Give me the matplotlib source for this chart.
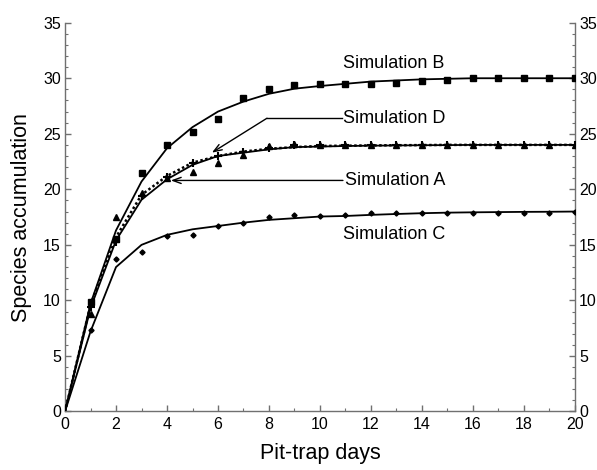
import matplotlib.pyplot as plt
from matplotlib.ticker import MultipleLocator
from matplotlib import font_manager
import numpy as np

plt.rcParams['font.family'] = 'sans-serif'
plt.rcParams['font.sans-serif'] = ['Liberation Sans', 'Arial', 'DejaVu Sans']

names = {f.name for f in font_manager.fontManager.ttflist}
tick_family = 'Liberation Sans Narrow' if 'Liberation Sans Narrow' in names else 'Liberation Sans'

# Pit-trap days
days_curve = list(range(0, 21))
days_obs = list(range(1, 21))

# Fitted accumulation curves
sim_b_curve = [0, 9.7, 16.3, 20.7, 23.7, 25.6, 27.0, 27.9, 28.6, 29.06, 29.3,
               29.5, 29.7, 29.8, 29.9, 29.95, 30.0, 30.0, 30.0, 30.0, 30.0]
sim_a_curve = [0, 9.3, 15.4, 19.06, 20.9, 22.2, 23.0, 23.3, 23.6, 23.8, 23.85,
               23.9, 23.93, 23.95, 23.97, 23.98, 24.0, 24.0, 24.0, 24.0, 24.0]
sim_d_curve = [0, 9.6, 15.7, 19.5, 21.2, 22.4, 23.0, 23.4, 23.65, 23.8, 23.9,
               23.93, 23.95, 23.97, 23.98, 24.0, 24.0, 24.0, 24.0, 24.0, 24.0]
sim_c_curve = [0, 7.2, 13.0, 15.0, 15.9, 16.4, 16.7, 17.0, 17.25, 17.4, 17.55,
               17.6, 17.7, 17.78, 17.85, 17.9, 17.93, 17.95, 17.97, 17.98, 18.0]

# Observed accumulation points
sim_b_obs = [9.9, 15.5, 21.5, 24.0, 25.2, 26.3, 28.2, 29.0, 29.4, 29.45,
             29.45, 29.5, 29.6, 29.75, 29.85, 30.0, 30.0, 30.0, 30.0, 30.0]
sim_a_obs = [8.8, 17.5, 19.7, 21.0, 21.6, 22.4, 23.1, 23.9, 24.05, 24.0,
             24.0, 24.0, 24.0, 24.0, 24.0, 24.0, 24.0, 24.0, 24.0, 24.0]
sim_d_obs = [9.4, 15.3, 19.4, 21.1, 22.4, 23.0, 23.4, 23.7, 24.0, 24.0,
             24.0, 24.0, 24.0, 24.0, 24.0, 24.0, 24.0, 24.0, 24.0, 24.0]
sim_c_obs = [7.3, 13.7, 14.4, 15.8, 15.9, 16.7, 17.0, 17.5, 17.7, 17.6,
             17.65, 17.9, 17.9, 17.9, 17.9, 17.9, 17.9, 17.9, 17.85, 18.0]

fig = plt.figure(figsize=(5.97, 4.70), dpi=100)
ax = fig.add_axes([0.1089, 0.1245, 0.8542, 0.8272])

ax.plot(days_curve, sim_b_curve, color='black', lw=1.3, zorder=3)
ax.plot(days_curve, sim_a_curve, color='black', lw=1.3, zorder=3)
ax.plot(days_curve, sim_c_curve, color='black', lw=1.3, zorder=3)
ax.plot(days_curve, sim_d_curve, color='black', lw=1.8, ls=(0, (1, 1)), zorder=4)

ax.plot(days_obs, sim_b_obs, 's', color='black', ms=3.8, zorder=5)
ax.plot(days_obs, sim_a_obs, '^', color='black', ms=4.2, zorder=5)
ax.plot(days_obs, sim_d_obs, '+', color='black', ms=5.5, mew=1.5, zorder=5)
ax.plot(days_obs, sim_c_obs, 'D', color='black', ms=2.6, zorder=5)

# Labels and arrows
txt = dict(fontsize=13, color='black', va='center', ha='left')
ax.text(10.9, 31.3, 'Simulation B', **txt)
ax.text(10.9, 26.4, 'Simulation D', **txt)
ax.text(11.0, 20.8, 'Simulation A', **txt)
ax.text(10.9, 15.9, 'Simulation C', **txt)

ax.plot([7.92, 10.85], [26.4, 26.4], color='black', lw=1.0)
ax.annotate('', xy=(5.76, 23.3), xytext=(7.92, 26.4),
            arrowprops=dict(arrowstyle='->,head_length=0.6,head_width=0.22',
                            color='black', lw=1.0, shrinkA=0, shrinkB=0))
ax.annotate('', xy=(4.15, 20.8), xytext=(10.9, 20.8),
            arrowprops=dict(arrowstyle='->,head_length=0.6,head_width=0.22',
                            color='black', lw=1.0, shrinkA=0, shrinkB=0))

ax.set_xlim(0, 20)
ax.set_ylim(0, 35)
ax.xaxis.set_major_locator(MultipleLocator(2))
ax.xaxis.set_minor_locator(MultipleLocator(1))
ax.yaxis.set_major_locator(MultipleLocator(5))
ax.yaxis.set_minor_locator(MultipleLocator(1))

ax.spines['top'].set_visible(False)
for s in ['left', 'right', 'bottom']:
    ax.spines[s].set_color('#707070')
    ax.spines[s].set_linewidth(1.0)

ax.tick_params(which='both', direction='in', color='#707070',
               left=True, right=True, bottom=True, top=False,
               labelleft=True, labelright=True, labelsize=11.5)
ax.tick_params(which='major', length=4, width=1.0, pad=4)
ax.tick_params(axis='y', which='major', pad=3)
ax.tick_params(which='minor', length=2, width=0.8)
for lab in ax.get_xticklabels() + ax.get_yticklabels() + ax.yaxis.get_ticklabels(which='major'):
    lab.set_family(tick_family)
for t in ax.yaxis.get_major_ticks():
    t.label2.set_family(tick_family)

ax.set_xlabel('Pit-trap days', fontsize=15.5, labelpad=8)
ax.set_ylabel('Species accumulation', fontsize=15.5, labelpad=8)

fig.savefig('out.png', dpi=100, facecolor='white')
